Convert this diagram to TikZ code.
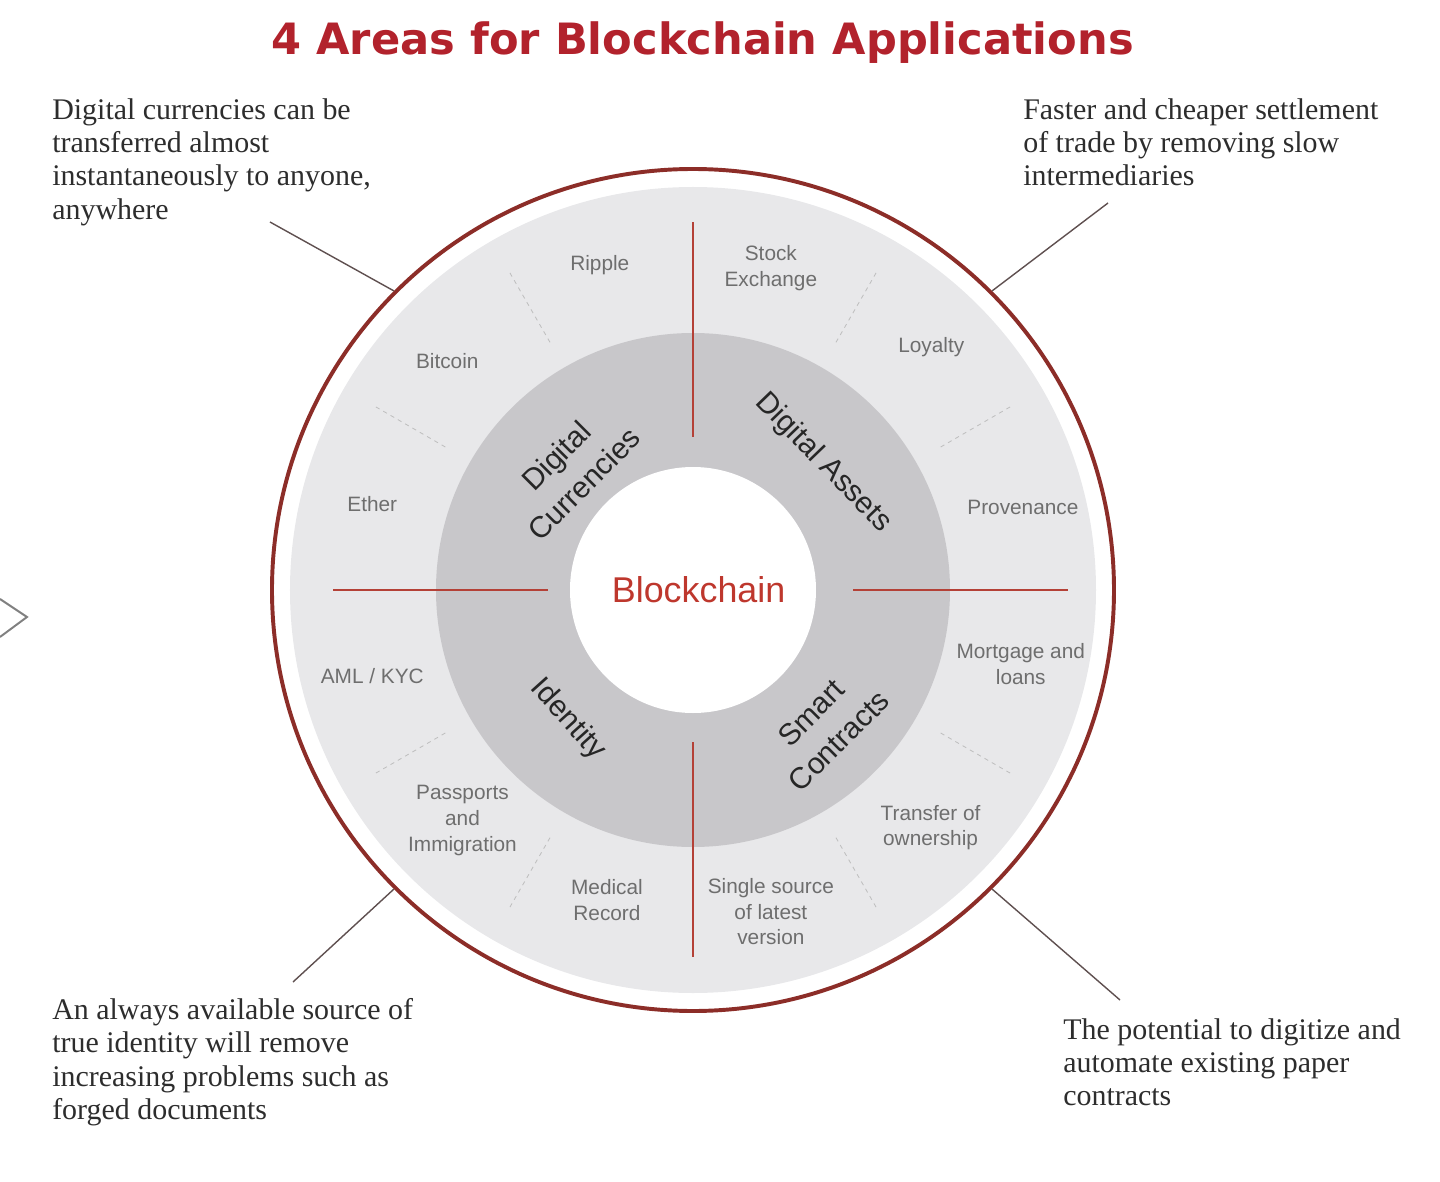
\documentclass[tikz,border=0pt]{standalone}
\usepackage{fontspec}
\setmainfont{Liberation Serif}
\newfontfamily\armfont{Liberation Sans}
\newfontfamily\headfont{DejaVu Sans}
\definecolor{ringred}{RGB}{140,45,40}
\definecolor{spokered}{RGB}{180,65,55}
\definecolor{chainred}{RGB}{190,55,45}
\definecolor{titlered}{RGB}{178,34,44}
\definecolor{paleband}{RGB}{232,232,234}
\definecolor{darkband}{RGB}{200,199,202}
\definecolor{itemgrey}{RGB}{110,110,110}
\definecolor{notegrey}{RGB}{45,45,45}
\definecolor{pingrey}{RGB}{95,80,80}
\usetikzlibrary{positioning, calc}
\tikzset{
  appitem/.style={font=\armfont\fontsize{14.8}{18.2}\selectfont, text=itemgrey, align=center, inner sep=0pt},
  area/.style={font=\armfont\fontsize{21.3}{28}\selectfont, text=black!85, align=center, inner sep=0pt, rotate=#1},
  note/.style={font=\fontsize{21.3}{23.8}\selectfont, text=notegrey, align=left, inner sep=0pt, anchor=north west},
  pin/.style={draw=pingrey, line width=1pt},
  spoke/.style={draw=spokered, line width=1.8pt},
  divider/.style={draw=black!25, dashed, line width=0.6pt},
}

\begin{document}
\begin{tikzpicture}
\useasboundingbox (-17.325,-14.775) rectangle (18.675,14.75);

% title
\node[font=\headfont\bfseries\fontsize{30.7}{36}\selectfont, text=titlered] (title) at (0.24,13.68) {4 Areas for Blockchain Applications};

% bands
\fill[paleband] (0,0) circle (10.075);
\fill[darkband] (0,0) circle (6.425);
\node[circle, draw=ringred, line width=2.8pt, minimum size=21.05cm, inner sep=0pt] (ring) at (0,0) {};
\node[circle, fill=white, minimum size=6.15cm, inner sep=0pt, font=\armfont\fontsize{25.5}{30}\selectfont, text=chainred] (core) at (0,0) {\hspace{8pt}Blockchain};

% spokes and dividers
\foreach \ang/\from/\to in {0/4.0/9.375, 90/3.83/9.2, 180/3.63/9.0, 270/3.8/9.17}
  \draw[spoke] (\ang:\from) -- (\ang:\to);
\foreach \ang in {30,60,120,150,210,240,300,330}
  \draw[divider] (\ang:7.15) -- (\ang:9.2);

% applications
\foreach \ang/\rad/\txt [count=\i] in {106/8.45/{Ripple}, 137/8.4/{Bitcoin}, 165/8.3/{Ether},
    -165/8.3/{AML / KYC}, -135/8.15/{Passports\\and\\Immigration}, -105.5/8.05/{Medical\\Record},
    -76.4/8.28/{Single source\\of latest\\version}, -45/8.4/{Transfer of\\ownership}, -12.7/8.4/{Mortgage and\\loans},
    14/8.5/{Provenance}, 45.5/8.5/{Loyalty}, 76.4/8.28/{Stock\\Exchange}}
  \node[appitem] (app-\i) at (\ang:\rad) {\txt};

% areas
\node[area=45] (currencies) at (135.7:4.3) {Digital\\Currencies};
\node[area=-46] (assets) at (44.3:4.55) {Digital Assets};
\node[area=-48] (identity) at (-134:4.5) {Identity};
\node[area=45] (contracts) at (-46:4.75) {Smart\\Contracts};

% notes
\node[note] (note-tl) at (-16.025,12.3) {Digital currencies can be\\transferred almost\\instantaneously to anyone,\\anywhere};
\node[note] (note-tr) at (8.25,12.3) {Faster and cheaper settlement\\of trade by removing slow\\intermediaries};
\node[note] (note-bl) at (-16.025,-10.2) {An always available source of\\true identity will remove\\increasing problems such as\\forged documents};
\node[note] (note-br) at (9.25,-10.7) {The potential to digitize and\\automate existing paper\\contracts};

\coordinate (tl-pin) at (-10.575,9.2);
\coordinate (tr-pin) at (10.375,9.675);
\coordinate (bl-pin) at (-10,-9.8);
\coordinate (br-pin) at (10.675,-10.25);
\draw[pin] (tl-pin) -- (ring.135);
\draw[pin] (tr-pin) -- (ring.45);
\draw[pin] (bl-pin) -- (ring.-135);
\draw[pin] (br-pin) -- (ring.-45);

% cut-off arrow at the left edge
\draw[black!50, line width=1.4pt] (-17.325,-0.225) -- (-16.65,-0.675) -- (-17.325,-1.175);
\end{tikzpicture}
\end{document}
